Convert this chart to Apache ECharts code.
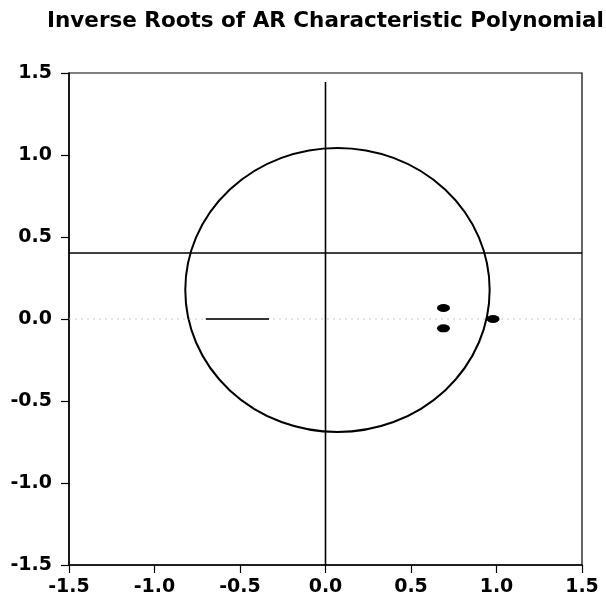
<!DOCTYPE html>
<html>
<head>
<meta charset="utf-8">
<script src="https://cdn.jsdelivr.net/npm/echarts@6/dist/echarts.min.js"></script>
<style>html,body{margin:0;padding:0;background:#fff;}#c{width:606px;height:604px;}</style>
</head>
<body>
<div id="c"></div>
<script>
const roots = [[0.69, 0.067], [0.69, -0.057], [0.98, 0.0]];
// Reference circle as drawn: [centerX, centerY, radiusX, radiusY]
const circleParams = [[0.07, 0.177, 0.89, 0.866]];
// Cross lines as drawn
const vLine = [[0.0, 1.445], [0.0, -1.5]];
const hLine = [[-1.5, 0.402], [1.5, 0.402]];
// faint scan line at zero
const zeroLine = [[-1.5, 0.0], [1.5, 0.0]];
const zeroDark = [[-0.7, 0.0], [-0.33, 0.0]];
const axisTicks = [-1.5, -1.0, -0.5, 0.0, 0.5, 1.0, 1.5];

const font = 'DejaVu Sans';
const chart = echarts.init(document.getElementById('c'));
const axisCommon = {
  type: 'value', min: axisTicks[0], max: axisTicks[axisTicks.length - 1], interval: 0.5,
  splitLine: { show: false },
  axisLine: { show: true, onZero: false, lineStyle: { color: '#000', width: 1.5 } },
  axisTick: { show: true, length: 8, lineStyle: { color: '#000', width: 1.2 } },
  axisLabel: { color: '#000', fontFamily: font, fontWeight: 'bold', fontSize: 19,
    formatter: v => v.toFixed(1) }
};
chart.setOption({
  animation: false,
  backgroundColor: '#fff',
  title: { text: 'Inverse Roots of AR Characteristic Polynomial', left: 42, top: 5,
    textStyle: { fontFamily: font, fontWeight: 'bold', fontSize: 21.5, color: '#000' } },
  grid: { left: 69, right: 24, top: 73, bottom: 39, show: true, borderColor: '#000', borderWidth: 1.2 },
  xAxis: Object.assign({}, axisCommon, { axisLabel: Object.assign({}, axisCommon.axisLabel, { margin: 13 }) }),
  yAxis: Object.assign({}, axisCommon, { axisLabel: Object.assign({}, axisCommon.axisLabel, { margin: 17 }) }),
  series: [
    { type: 'line', data: zeroLine, showSymbol: false, silent: true,
      lineStyle: { color: '#c8c8c8', width: 1, type: [2, 4] } },
    { type: 'line', data: zeroDark, showSymbol: false, silent: true,
      lineStyle: { color: '#333', width: 2 } },
    { type: 'line', data: vLine, showSymbol: false, silent: true,
      lineStyle: { color: '#000', width: 1.6 } },
    { type: 'line', data: hLine, showSymbol: false, silent: true,
      lineStyle: { color: '#000', width: 1.6 } },
    { type: 'custom', data: circleParams, silent: true, clip: false,
      encode: { x: 0, y: 1 },
      renderItem: function (params, api) {
        const c = api.coord([api.value(0), api.value(1)]);
        const s = api.size([api.value(2), api.value(3)]);
        const rx = s[0], ry = s[1];
        const d = 'M' + (c[0] - rx) + ' ' + c[1] +
          ' A' + rx + ' ' + ry + ' 0 1 0 ' + (c[0] + rx) + ' ' + c[1] +
          ' A' + rx + ' ' + ry + ' 0 1 0 ' + (c[0] - rx) + ' ' + c[1] + ' Z';
        return { type: 'path', shape: { pathData: d },
          style: { fill: 'none', stroke: '#000', lineWidth: 2 } };
      } },
    { type: 'scatter', data: roots, symbol: 'circle', symbolSize: [13, 8],
      itemStyle: { color: '#000', opacity: 1 }, z: 5 }
  ]
});
</script>
</body>
</html>
